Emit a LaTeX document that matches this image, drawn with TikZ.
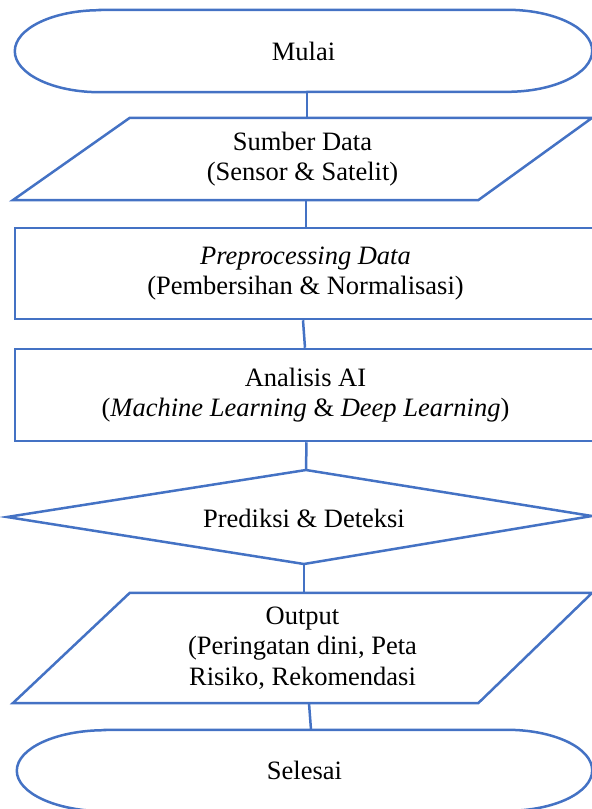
\documentclass[tikz,border=0pt]{standalone}
\usepackage{fontspec}
\setmainfont{Liberation Serif}
\definecolor{flowblue}{HTML}{4472C4}
\begin{document}
\begin{tikzpicture}[x=1pt,y=-1pt,
  outline/.style={draw=flowblue, line width=2.5pt, line join=miter},
  label/.style={inner sep=0pt, align=center, font=\fontsize{26.5}{30.5}\selectfont},
  link/.style={draw=flowblue, line width=2.5pt}]
\useasboundingbox (0,0) rectangle (592,809);

% start terminal
\node[label, minimum width=577pt, minimum height=82pt] (mulai) at (303.5,51) {Mulai};
\draw[outline] ([xshift=85pt]mulai.north west) -- ([xshift=-85pt]mulai.north east)
  arc[start angle=-90, end angle=90, x radius=85, y radius=41]
  -- ([xshift=85pt]mulai.south west)
  arc[start angle=90, end angle=270, x radius=85, y radius=41] -- cycle;

% data input
\node[label, minimum width=579pt, minimum height=82pt] (sumber) at (302.5,159)
  {Sumber Data\\(Sensor \& Satelit)};
\draw[outline] ([xshift=117pt]sumber.north west) -- (sumber.north east)
  -- ([xshift=-114pt]sumber.south east) -- (sumber.south west) -- cycle;

% processing steps
\node[label, outline, minimum width=581pt, minimum height=91pt] (prep) at (305.5,273.5)
  {\textit{Preprocessing Data}\\(Pembersihan \& Normalisasi)};
\node[label, outline, minimum width=581pt, minimum height=92pt] (analisis) at (305.5,395)
  {Analisis AI\\(\textit{Machine Learning} \& \textit{Deep Learning})};

% decision
\node[label] (prediksi) at (304,518) {Prediksi \& Deteksi};
\draw[outline] ([shift={(-297,-1)}]prediksi.center) -- ([shift={(2,-48)}]prediksi.center)
  -- ([shift={(288,-2)}]prediksi.center) -- ([shift={(0,46)}]prediksi.center) -- cycle;

% output
\node[label, minimum width=579pt, minimum height=110pt] (output) at (302.5,648)
  {Output\\(Peringatan dini, Peta\\Risiko, Rekomendasi};
\draw[outline] ([xshift=117pt]output.north west) -- (output.north east)
  -- ([xshift=-114pt]output.south east) -- (output.south west) -- cycle;

% end terminal
\node[label, minimum width=575pt, minimum height=81pt] (selesai) at (304.5,770.5) {Selesai};
\draw[outline] ([xshift=88pt]selesai.north west) -- ([xshift=-85pt]selesai.north east)
  arc[start angle=-90, end angle=90, x radius=85, y radius=40.5]
  -- ([xshift=88pt]selesai.south west)
  arc[start angle=90, end angle=270, x radius=88, y radius=40.5] -- cycle;

% connectors
\draw[link] ([xshift=3.5pt]mulai.south) -- ([xshift=4.5pt]sumber.north);
\draw[link] ([xshift=3.5pt]sumber.south) -- ([xshift=0.5pt]prep.north);
\draw[link] ([xshift=-2.5pt]prep.south) -- ([xshift=-0.5pt]analisis.north);
\draw[link] ([xshift=1pt]analisis.south) -- ([shift={(2,-48)}]prediksi.center);
\draw[link] ([shift={(0,46)}]prediksi.center) -- ([xshift=1.5pt]output.north);
\draw[link] ([xshift=6.5pt]output.south) -- ([xshift=6.5pt]selesai.north);
\end{tikzpicture}
\end{document}
